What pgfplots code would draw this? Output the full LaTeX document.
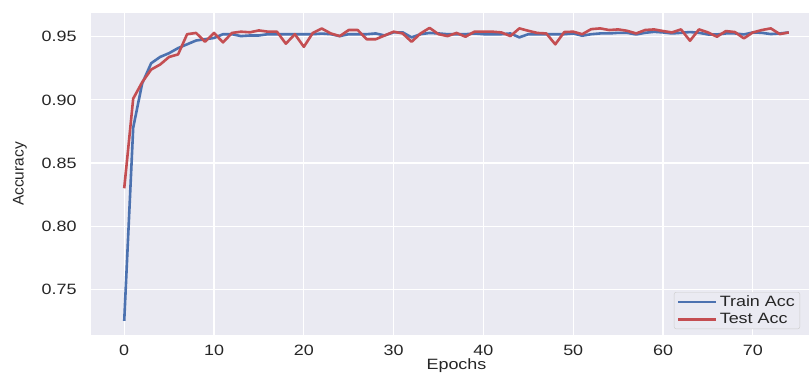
\documentclass[border=0pt]{standalone}
\usepackage{pgfplots}
\pgfplotsset{compat=1.18}
\usepackage{fontspec}
\setmainfont{Liberation Sans}[FakeStretch=1.2]
\newfontfamily\plainfont{Liberation Sans}
\definecolor{bg}{HTML}{EAEAF2}
\definecolor{sblue}{HTML}{4C72B0}
\definecolor{sred}{HTML}{C44E52}
\pgfplotstableread{
e train test
0 0.725 0.830
1 0.878 0.901
2 0.913 0.914
3 0.929 0.924
4 0.934 0.928
5 0.937 0.934
6 0.941 0.936
7 0.944 0.952
8 0.947 0.953
9 0.948 0.946
10 0.949 0.953
11 0.952 0.9455
12 0.952 0.953
13 0.9505 0.954
14 0.951 0.9535
15 0.951 0.955
16 0.952 0.954
17 0.952 0.954
18 0.952 0.9445
19 0.952 0.952
20 0.952 0.942
21 0.952 0.953
22 0.9525 0.9565
23 0.952 0.9526
24 0.9505 0.9505
25 0.952 0.9553
26 0.952 0.9553
27 0.952 0.948
28 0.9526 0.948
29 0.951 0.951
30 0.9535 0.954
31 0.9535 0.9526
32 0.9495 0.946
33 0.952 0.9526
34 0.953 0.957
35 0.9526 0.952
36 0.952 0.9505
37 0.952 0.953
38 0.952 0.950
39 0.9526 0.954
40 0.952 0.954
41 0.952 0.954
42 0.952 0.9534
43 0.9526 0.9505
44 0.9495 0.9566
45 0.952 0.9547
46 0.952 0.953
47 0.952 0.9526
48 0.952 0.944
49 0.952 0.9537
50 0.9526 0.954
51 0.9508 0.952
52 0.952 0.956
53 0.9526 0.9566
54 0.9526 0.9553
55 0.9531 0.9558
56 0.9531 0.9547
57 0.9518 0.9526
58 0.9531 0.9553
59 0.9539 0.9558
60 0.9534 0.9545
61 0.9526 0.9534
62 0.9531 0.9558
63 0.9537 0.9468
64 0.9531 0.9558
65 0.9518 0.9534
66 0.9518 0.950
67 0.9526 0.9545
68 0.9526 0.9537
69 0.9518 0.9487
70 0.9534 0.9534
71 0.9531 0.9553
72 0.9521 0.9566
73 0.9526 0.9521
74 0.9534 0.9534
}\datatable
\begin{document}
\begin{tikzpicture}
\begin{axis}[
  at={(0,0)}, anchor=south west,
  scale only axis, width=731bp, height=321bp,
  xmin=-3.7, xmax=77.7, ymin=0.7142, ymax=0.9684,
  axis background/.style={fill=bg},
  axis line style={draw=none},
  grid=major, grid style={white, line width=1.2bp},
  major tick length=0,
  xtick={0,10,...,70}, ytick={0.75,0.80,0.85,0.90,0.95},
  /pgf/number format/assume math mode=true,
  yticklabel style={/pgf/number format/fixed, /pgf/number format/fixed zerofill, /pgf/number format/precision=2},
  ticklabel style={font=\fontsize{15}{17}\selectfont, text=black!85},
  yticklabel style={anchor=east, xshift=-11bp},
  xticklabel style={anchor=north, yshift=-7.5bp},
  xlabel={Epochs},
  xlabel style={at={(axis description cs:0.5,0)}, anchor=north, yshift=-21bp, font=\fontsize{15}{17}\selectfont, text=black!85},
  ylabel={Accuracy},
  ylabel style={at={(axis description cs:-0.0971,0.5)}, anchor=center, font=\plainfont\fontsize{15.5}{17}\selectfont, text=black!85},
  legend cell align=left,
  legend image code/.code={\draw[#1] (0bp,0bp) -- (38bp,0bp);},
  legend style={at={(axis description cs:0.7975,0.017)}, anchor=south west,
    draw=black!20, fill=bg, rounded corners=2bp,
    font=\fontsize{15}{17}\selectfont, text=black!85,
    inner xsep=3bp, inner ysep=1.5bp, row sep=1.5bp},
]
\addplot[sblue, line width=2.6bp, line join=round] table[x=e, y=train] {\datatable};
\addlegendentry{Train Acc}
\addplot[sred, line width=2.6bp, line join=round] table[x=e, y=test] {\datatable};
\addlegendentry{Test Acc}
\end{axis}
\pgfresetboundingbox
\useasboundingbox (-91bp,-39.5bp) rectangle (718bp,334.5bp);
\end{tikzpicture}
\end{document}
